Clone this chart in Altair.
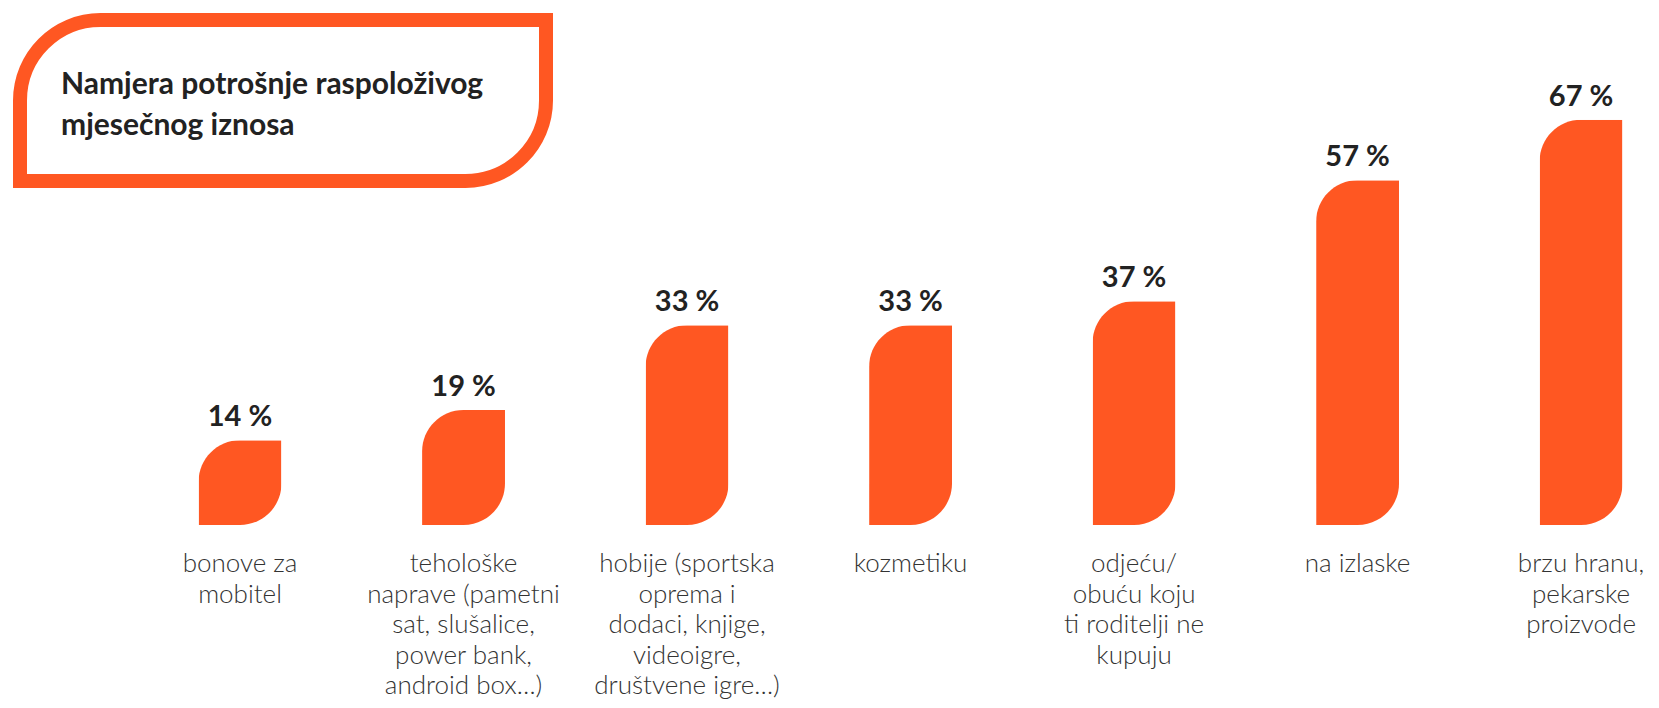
import altair as alt
import pandas as pd

categories = [
    "bonove za mobitel",
    "tehološke naprave",
    "hobije",
    "kozmetiku",
    "odjeću/obuću",
    "na izlaske",
    "brzu hranu",
]
values = [14, 19, 33, 33, 37, 57, 67]
value_labels = ["14 %", "19 %", "33 %", "33 %", "37 %", "57 %", "67 %"]
category_labels = [
    "bonove za|mobitel",
    "tehološke|naprave (pametni|sat, slušalice,|power bank,|android box…)",
    "hobije (sportska|oprema i|dodaci, knjige,|videoigre,|društvene igre…)",
    "kozmetiku",
    "odjeću/|obuću koju|ti roditelji ne|kupuju",
    "na izlaske",
    "brzu hranu,|pekarske|proizvode",
]
title_text = "Namjera potrošnje raspoloživog|mjesečnog iznosa"

ORANGE = "#FF5722"
FONT = "Lato"

df = pd.DataFrame({
    "cat": categories,
    "value": values,
    "vlabel": value_labels,
    "clabel": category_labels,
})

W, H = 1643, 517

x = alt.X("cat:N", sort=categories, axis=None,
          scale=alt.Scale(paddingInner=0.629, paddingOuter=0.49, align=0.87))
y = alt.Y("value:Q", axis=None, scale=alt.Scale(domain=[0, 85.45], nice=False, zero=True))

base = alt.Chart(df)

bars = base.mark_bar(
    color=ORANGE, cornerRadiusTopLeft=55, cornerRadiusBottomRight=55
).encode(x=x, y=y)

vals = base.mark_text(
    font=FONT, fontSize=29, fontWeight="bold", color="#222222",
    baseline="alphabetic", align="center", dy=-14
).encode(x=x, y=y, text="vlabel:N")

cats = base.mark_text(
    font=FONT, fontSize=26, fontWeight=300, color="#333333",
    baseline="alphabetic", align="center", lineBreak="|", lineHeight=30.5
).encode(x=x, y=alt.value(564), text="clabel:N")

box_df = pd.DataFrame({"t": [title_text]})
box = alt.Chart(box_df).mark_rect(
    fill="white", stroke=ORANGE, strokeWidth=14,
    cornerRadiusTopLeft=84, cornerRadiusBottomRight=84
).encode(x=alt.value(12), x2=alt.value(538), y=alt.value(12), y2=alt.value(173))

title = alt.Chart(box_df).mark_text(
    font=FONT, fontSize=30, fontWeight="bold", color="#222222",
    baseline="alphabetic", align="left", lineBreak="|", lineHeight=41
).encode(x=alt.value(53), y=alt.value(86), text="t:N")

chart = alt.layer(box, title, bars, vals, cats).properties(
    width=W, height=H,
    padding={"left": 0, "top": 0, "right": 0, "bottom": 175},
    autosize=alt.AutoSizeParams(type="none"),
    background="white",
).configure_view(stroke=None)

chart.save("out.html", embed_options={"renderer": "svg", "actions": False})
